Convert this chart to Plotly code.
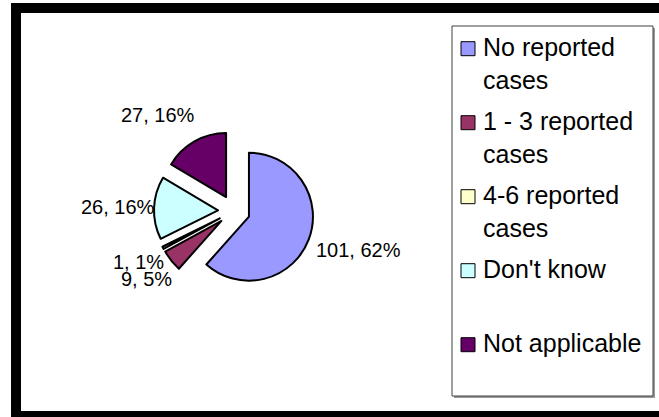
import math
import plotly.graph_objects as go

# data
labels = ["No reported cases", "1 - 3 reported cases", "4-6 reported cases",
          "Don't know", "Not applicable"]
legend_text = ["No reported<br>cases", "1 - 3 reported<br>cases",
               "4-6 reported<br>cases", "Don't know", "Not applicable"]
counts = [101, 9, 1, 26, 27]
colors = ["#9999FF", "#993366", "#FFFFCC", "#CCFFFF", "#660066"]

W, H = 659, 417
FONT = "Liberation Sans, Arial, sans-serif"
PULL = 0.25

# pie box in pixels (left, top, size)
PIE_L, PIE_T, PIE_S = 154, 131, 160


def fx(x):
    return x / W


def fy(y):
    return 1 - y / H


fig = go.Figure(go.Pie(
    labels=labels,
    values=counts,
    sort=False,
    direction="clockwise",
    rotation=0,
    pull=[PULL] * len(counts),
    marker=dict(colors=colors, line=dict(color="black", width=2)),
    textinfo="none",
    domain=dict(x=[fx(PIE_L), fx(PIE_L + PIE_S)],
                y=[fy(PIE_T + PIE_S), fy(PIE_T)]),
    showlegend=False,
))

shapes = []
annotations = []

# data labels "value, pct%" just outside each exploded slice
cx, cy0 = PIE_L + PIE_S / 2, PIE_T + PIE_S / 2
r = PIE_S / 2 / (1 + PULL)
total = sum(counts)
cum = 0
for v in counts:
    mid = (cum + v / 2) / total * 2 * math.pi
    cum += v
    dx, dy = math.sin(mid), -math.cos(mid)
    px = cx + r * (1 + PULL) * dx
    py = cy0 + r * (1 + PULL) * dy + 30 * dy
    right = dx > 0
    annotations.append(dict(xref="paper", yref="paper",
                            x=fx(px + (6 if right else 2)), y=fy(py),
                            xanchor="left" if right else "right",
                            yanchor="middle", showarrow=False, borderpad=0,
                            text=f"{v}, {round(100 * v / total)}%",
                            font=dict(size=20, color="black", family=FONT)))

# outer frame (its right side lies off the picture)
frame = [(11, 8, W, 8), (16, 3, 16, H), (11, 416, W, 416)]
for x0, y0, x1, y1 in frame:
    shapes.append(dict(type="line", xref="paper", yref="paper",
                       x0=fx(x0), y0=fy(y0), x1=fx(x1), y1=fy(y1),
                       line=dict(color="black", width=10)))

# legend box with shadow
shapes.append(dict(type="rect", xref="paper", yref="paper",
                   x0=fx(454), y0=fy(28), x1=fx(655), y1=fy(398),
                   fillcolor="#9a9a9a", line=dict(width=0)))
shapes.append(dict(type="rect", xref="paper", yref="paper",
                   x0=fx(452), y0=fy(26), x1=fx(653), y1=fy(396),
                   fillcolor="white", line=dict(color="#404040", width=1)))

# legend entries
slot0, slot = 48.7, 74
for i, (txt, col) in enumerate(zip(legend_text, colors)):
    yc = slot0 + i * slot
    shapes.append(dict(type="rect", xref="paper", yref="paper",
                       x0=fx(461), y0=fy(yc - 7), x1=fx(475), y1=fy(yc + 7),
                       fillcolor=col, line=dict(color="black", width=1)))
    annotations.append(dict(xref="paper", yref="paper",
                            x=fx(482), y=fy(yc - 16.25),
                            xanchor="left", yanchor="top", align="left",
                            text=txt, showarrow=False, borderpad=0,
                            font=dict(size=25, color="black", family=FONT)))

fig.update_layout(
    width=W, height=H,
    margin=dict(l=0, r=0, t=0, b=0),
    paper_bgcolor="white",
    plot_bgcolor="white",
    font=dict(family=FONT, color="black"),
    shapes=shapes,
    annotations=annotations,
)

fig.write_html(
    "out.html", config={"displayModeBar": False},
    post_script="document.body.style.margin='0';"
                "document.body.style.background='white';"
                "document.documentElement.style.background='white';"
                "document.documentElement.style.overflow='hidden';")
